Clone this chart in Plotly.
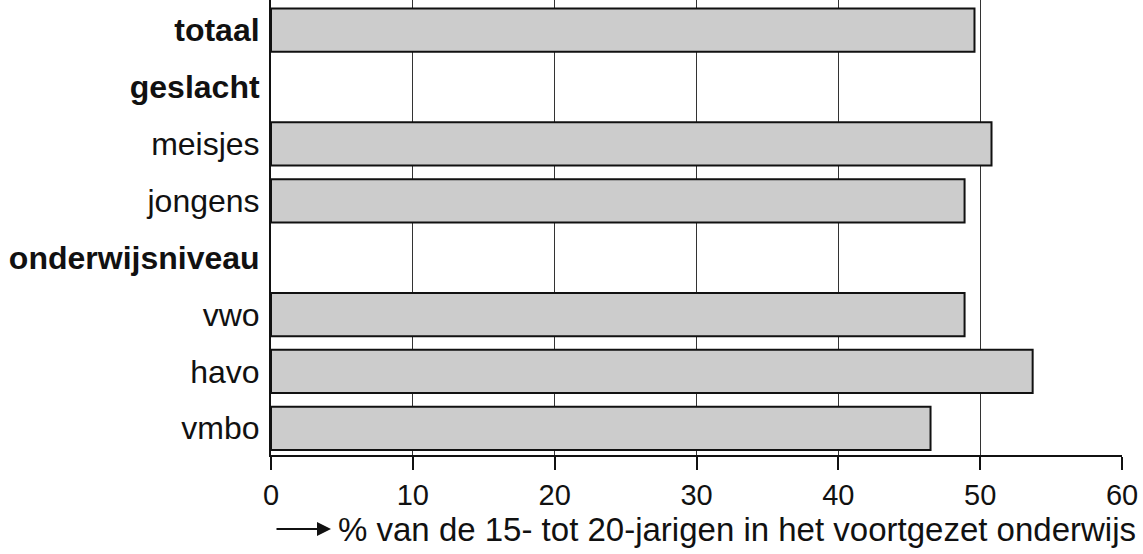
import plotly.graph_objects as go

categories = ["totaal", "geslacht", "meisjes", "jongens", "onderwijsniveau", "vwo", "havo", "vmbo"]
bold = [True, True, False, False, True, False, False, False]
values = [49.6, None, 50.8, 48.9, None, 48.9, 53.7, 46.5]
x_ticks = [0, 10, 20, 30, 40, 50, 60]
x_title = "% van de 15- tot 20-jarigen in het voortgezet onderwijs"

ypos = list(range(len(categories)))
bar_y = [y for y, v in zip(ypos, values) if v is not None]
bar_x = [v for v in values if v is not None]
ticktext = [f"<b>{c}</b>" if b else c for c, b in zip(categories, bold)]

FONT = "Liberation Sans, Arial, sans-serif"

fig = go.Figure()
fig.add_trace(go.Bar(
    x=bar_x, y=bar_y, orientation="h", width=0.76,
    marker=dict(color="#cccccc", line=dict(color="#111111", width=2)),
    hoverinfo="x+y",
))

fig.update_layout(
    width=1143, height=554,
    margin=dict(l=271, r=21, t=0, b=99, autoexpand=False),
    paper_bgcolor="white", plot_bgcolor="white",
    showlegend=False,
    font=dict(family=FONT, color="#111111", size=32),
    xaxis=dict(
        range=[0, 60], tickvals=x_ticks, ticktext=[str(t) for t in x_ticks],
        showgrid=True, gridcolor="#333333", gridwidth=1,
        zeroline=False, showline=True, linecolor="#111111", linewidth=2,
        ticks="outside", ticklen=13, tickwidth=2, tickcolor="#111111",
        tickfont=dict(size=29, family=FONT, color="#111111"),
        automargin=False, fixedrange=True,
    ),
    yaxis=dict(
        range=[7.47, -0.53], tickvals=ypos, ticktext=ticktext,
        showgrid=False, zeroline=False, showline=True, linecolor="#111111", linewidth=2,
        ticks="", ticklabelstandoff=3,
        tickfont=dict(size=32, family=FONT, color="#111111"),
        automargin=False, fixedrange=True,
    ),
    annotations=[
        dict(xref="paper", yref="paper", x=(336 - 271) / 851, y=-74 / 455,
             xanchor="left", yanchor="middle", text=x_title, showarrow=False,
             font=dict(size=33, family=FONT, color="#111111")),
        dict(xref="paper", yref="paper", x=(331 - 271) / 851, y=-74 / 455,
             ax=-56, ay=0, axref="pixel", ayref="pixel", text="", showarrow=True,
             arrowhead=2, arrowsize=1.4, arrowwidth=2, arrowcolor="#111111",
             standoff=0),
    ],
)

fig.write_html("out.html", config={"displayModeBar": False},
               post_script="document.body.style.margin='0';document.body.style.overflow='hidden';")
